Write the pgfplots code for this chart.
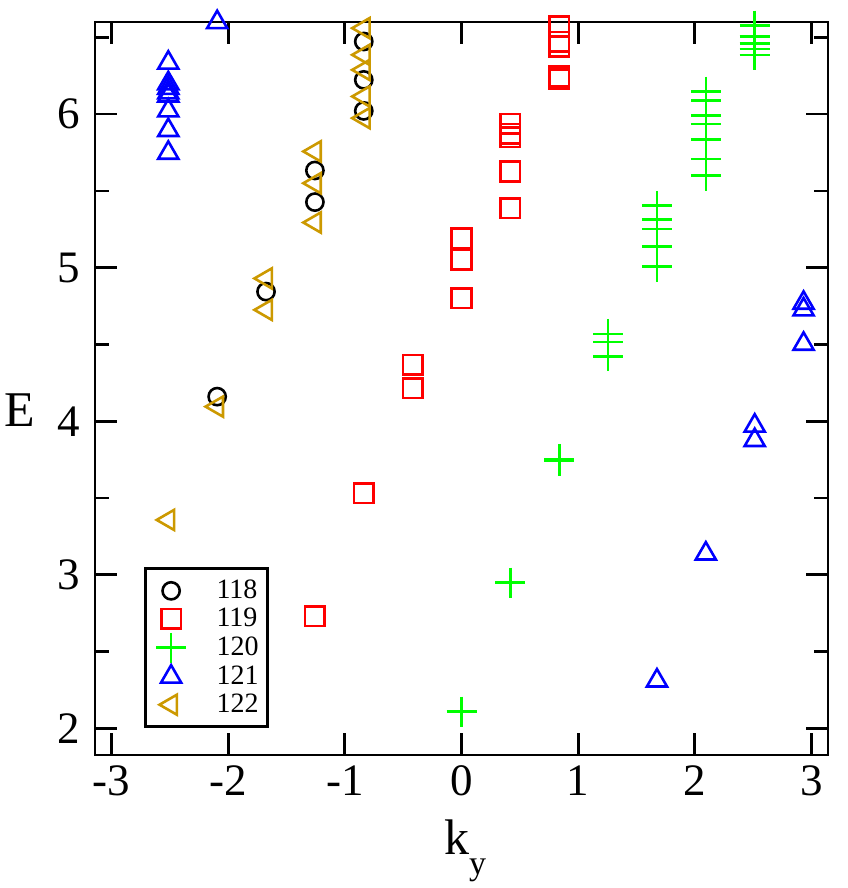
\documentclass[border=0pt]{standalone}
\usepackage{pgfplots}
\usepackage{pgfplotstable}
\pgfplotsset{compat=1.18}
\usepackage{fontspec}
\setmainfont{Liberation Serif}
\definecolor{gold}{RGB}{204,153,0}
\definecolor{pgreen}{RGB}{0,255,0}

\pgfplotstableread{
x E
-2.0944 4.160
-1.6755 4.844
-1.2566 5.633
-1.2566 5.427
-0.8378 6.473
-0.8378 6.223
-0.8378 6.021
}\tblA
\pgfplotstableread{
x E
-1.2566 2.730
-0.8378 3.531
-0.4189 4.367
-0.4189 4.215
0.0000 4.800
0.0000 5.051
0.0000 5.192
0.4189 5.387
0.4189 5.626
0.4189 5.850
0.4189 5.872
0.4189 5.937
0.8378 6.228
0.8378 6.245
0.8378 6.440
0.8378 6.470
0.8378 6.570
}\tblB
\pgfplotstableread{
x E
0.0000 2.108
0.4189 2.949
0.8378 3.741
0.8378 3.755
1.2566 4.423
1.2566 4.516
1.2566 4.568
1.6755 5.007
1.6755 5.137
1.6755 5.251
1.6755 5.312
1.6755 5.403
2.0944 5.600
2.0944 5.707
2.0944 5.833
2.0944 5.935
2.0944 5.991
2.0944 6.087
2.0944 6.147
2.5133 6.386
2.5133 6.423
2.5133 6.458
2.5133 6.506
2.5133 6.577
}\tblC
\pgfplotstableread{
x E
-2.5133 5.747
-2.5133 5.895
-2.5133 6.023
-2.5133 6.120
-2.5133 6.140
-2.5133 6.170
-2.5133 6.200
-2.5133 6.334
-2.0944 6.598
1.6755 2.310
2.0944 3.137
2.5133 3.876
2.5133 3.970
2.9322 4.503
2.9322 4.727
2.9322 4.770
}\tblD
\pgfplotstableread{
x E
-2.5133 3.357
-2.0944 4.095
-1.6755 4.725
-1.6755 4.930
-1.2566 5.294
-1.2566 5.550
-1.2566 5.757
-0.8378 5.974
-0.8378 6.115
-0.8378 6.288
-0.8378 6.386
-0.8378 6.560
}\tblE

\begin{document}
\begin{tikzpicture}
\begin{axis}[
  scale only axis, width=366.5pt, height=366.5pt,
  xmin=-3.14159, xmax=3.14159, ymin=1.826, ymax=6.60,
  clip=false,
  axis line style={line width=1.35pt},
  every tick/.style={line width=1.35pt, black},
  major tick length=11pt, minor tick length=7pt,
  tick align=inside,
  xtick={-3,-2,-1,0,1,2,3}, xticklabels={-3,-2,-1,0,1,2,3},
  ytick={2,3,4,5,6}, yticklabels={2,3,4,5,6},
  minor ytick={2.5,3.5,4.5,5.5,6.5},
  tick label style={font=\fontsize{22.5}{27}\selectfont},
  xticklabel style={yshift=-2pt},
  yticklabel style={xshift=-4pt},
  xlabel={k\raisebox{-0.4em}{\fontsize{17}{17}\selectfont y}},
  ylabel={E},
  label style={font=\fontsize{25}{30}\selectfont},
  xlabel style={at={(rel axis cs:0.505,0)}, anchor=north, yshift=-32pt, inner sep=0pt},
  ylabel style={at={(rel axis cs:0,0.47)}, anchor=center, rotate=-90, xshift=-37.5pt, inner sep=0pt},
  every axis plot/.append style={line width=1.3pt},
  legend style={at={(rel axis cs:0.0668,0.0368)}, anchor=south west, draw=black,
    line width=1.35pt, font=\fontsize{14}{15}\selectfont,
    inner xsep=3pt, inner ysep=4pt,
    nodes={inner sep=1.6pt, text depth=0.15em}},
  legend cell align=left,
  legend image code/.code={\draw[mark repeat=2,mark phase=2,#1] plot coordinates {(0pt,0pt) (9.9pt,0pt) (31pt,0pt)};
    \path[draw=none,fill=none] (0pt,-1pt) rectangle (31pt,1pt);},
]
\addplot[only marks, black, mark=o, mark size=4.3pt] table {\tblA};
\addlegendentry{118}
\addplot[only marks, red, mark=square, mark size=4.9pt] table {\tblB};
\addlegendentry{119}
\addplot[only marks, pgreen, mark=+, mark size=7.5pt] table {\tblC};
\addlegendentry{120}
\addplot[only marks, blue, mark=triangle, mark size=5.8pt] table {\tblD};
\addlegendentry{121}
\addplot[only marks, gold, mark=triangle, mark size=5.8pt, mark options={rotate=90}] table {\tblE};
\addlegendentry{122}
\coordinate (SW) at (rel axis cs:0,0);
\coordinate (NE) at (rel axis cs:1,1);
\end{axis}
\pgfresetboundingbox
\path[use as bounding box] ([shift={(-47.5pt,-66.5pt)}]SW) rectangle ([shift={(10pt,11pt)}]NE);
\end{tikzpicture}
\end{document}
